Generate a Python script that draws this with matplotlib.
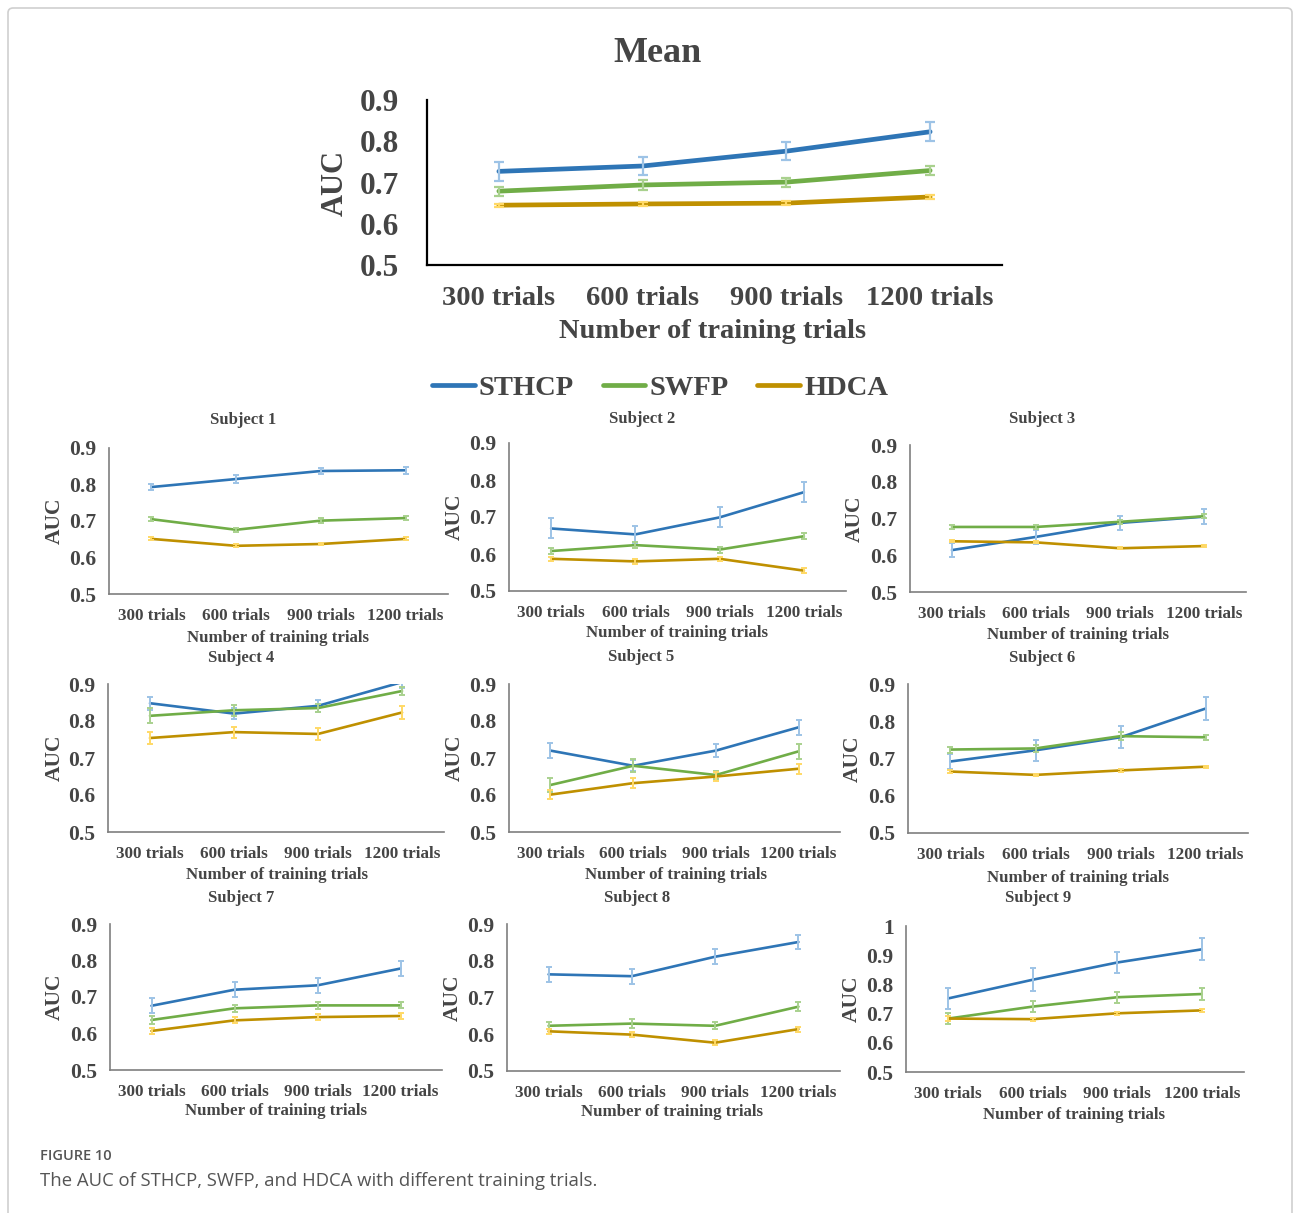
import matplotlib
matplotlib.use('Agg')
import matplotlib.pyplot as plt
from matplotlib.patches import FancyBboxPatch
from matplotlib.lines import Line2D
from matplotlib.ticker import FuncFormatter

W, H = 1293, 1213

categories = ['300 trials', '600 trials', '900 trials', '1200 trials']
panel_titles = ['Mean', 'Subject 1', 'Subject 2', 'Subject 3', 'Subject 4',
                'Subject 5', 'Subject 6', 'Subject 7', 'Subject 8', 'Subject 9']
methods = ['STHCP', 'SWFP', 'HDCA']

# AUC per panel (Mean, Subject 1..9), one list per method
sthcp_auc = [
    [0.727, 0.740, 0.776, 0.823],
    [0.793, 0.815, 0.837, 0.839],
    [0.669, 0.653, 0.699, 0.767],
    [0.614, 0.650, 0.688, 0.705],
    [0.848, 0.820, 0.841, 0.905],
    [0.720, 0.679, 0.720, 0.783],
    [0.692, 0.722, 0.757, 0.834],
    [0.676, 0.720, 0.732, 0.778],
    [0.763, 0.758, 0.811, 0.851],
    [0.752, 0.816, 0.875, 0.920],
]
sthcp_err = [
    [0.023, 0.023, 0.022, 0.023],
    [0.009, 0.010, 0.009, 0.009],
    [0.027, 0.023, 0.027, 0.027],
    [0.020, 0.020, 0.020, 0.020],
    [0.017, 0.015, 0.017, 0.017],
    [0.020, 0.015, 0.018, 0.020],
    [0.020, 0.028, 0.030, 0.031],
    [0.020, 0.020, 0.020, 0.020],
    [0.020, 0.020, 0.020, 0.020],
    [0.037, 0.040, 0.037, 0.038],
]
swfp_auc = [
    [0.679, 0.694, 0.701, 0.729],
    [0.705, 0.676, 0.701, 0.708],
    [0.608, 0.624, 0.612, 0.648],
    [0.677, 0.677, 0.691, 0.706],
    [0.814, 0.829, 0.835, 0.881],
    [0.627, 0.679, 0.654, 0.718],
    [0.724, 0.727, 0.760, 0.757],
    [0.637, 0.669, 0.677, 0.677],
    [0.623, 0.629, 0.623, 0.675],
    [0.683, 0.724, 0.756, 0.767],
]
swfp_err = [
    [0.011, 0.011, 0.011, 0.011],
    [0.006, 0.006, 0.006, 0.006],
    [0.008, 0.008, 0.008, 0.008],
    [0.005, 0.005, 0.005, 0.005],
    [0.020, 0.015, 0.012, 0.012],
    [0.018, 0.017, 0.010, 0.020],
    [0.008, 0.010, 0.010, 0.007],
    [0.010, 0.010, 0.010, 0.008],
    [0.010, 0.012, 0.010, 0.012],
    [0.020, 0.020, 0.018, 0.020],
]
hdca_auc = [
    [0.645, 0.648, 0.650, 0.665],
    [0.651, 0.632, 0.637, 0.651],
    [0.587, 0.580, 0.587, 0.555],
    [0.638, 0.635, 0.619, 0.625],
    [0.754, 0.770, 0.765, 0.823],
    [0.601, 0.632, 0.650, 0.671],
    [0.665, 0.656, 0.668, 0.678],
    [0.607, 0.636, 0.645, 0.648],
    [0.608, 0.599, 0.577, 0.614],
    [0.683, 0.681, 0.701, 0.711],
]
hdca_err = [
    [0.004, 0.004, 0.004, 0.004],
    [0.004, 0.004, 0.004, 0.004],
    [0.006, 0.006, 0.006, 0.006],
    [0.003, 0.003, 0.003, 0.003],
    [0.015, 0.015, 0.015, 0.017],
    [0.013, 0.013, 0.012, 0.013],
    [0.003, 0.003, 0.003, 0.003],
    [0.008, 0.008, 0.008, 0.008],
    [0.007, 0.007, 0.007, 0.007],
    [0.010, 0.005, 0.005, 0.005],
]
y_top = [0.9, 0.9, 0.9, 0.9, 0.9, 0.9, 0.9, 0.9, 0.9, 1.0]

line_colors = ['#2E75B6', '#70AD47', '#BF9000']
err_colors = ['#9DC3E6', '#A9D18E', '#FFD966']
TXT = '#454545'
SERIF = 'Liberation Serif'

plt.rcParams['font.family'] = SERIF
plt.rcParams['font.weight'] = 'bold'

fig = plt.figure(figsize=(W / 100, H / 100), dpi=100)

# light frame round the figure
fig.patches.append(FancyBboxPatch((8 / W, -0.02), 1284 / W, 1 - 8 / H + 0.02,
                                  boxstyle='round,pad=0,rounding_size=0.004',
                                  transform=fig.transFigure, fill=False,
                                  edgecolor='#cfcfcf', linewidth=1.2))


def ftext(x, y, s, **kw):
    fig.text(x / W, 1 - y / H, s, ha=kw.pop('ha', 'center'), va=kw.pop('va', 'center'),
             color=kw.pop('color', TXT), **kw)


# pixel boxes: left, top(=upper limit), right, bottom(=0.5)
boxes = [
    (427, 100, 1002, 265),
    (109, 448, 448, 594), (509, 443, 846, 591), (910, 445, 1246, 592),
    (108, 684, 444, 832), (509, 684, 840, 832), (908, 684, 1248, 833),
    (110, 924, 442, 1070), (507, 924, 840, 1071), (906, 926, 1244, 1072),
]
# title, y-label and x-label anchors (pixels)
title_pos = [(657, 53), (243, 420), (642, 419), (1042, 419), (241, 658), (641, 657),
             (1042, 658), (241, 898), (637, 898), (1038, 898)]
ylab_x = [335, 55, 455, 855, 55, 455, 853, 55, 453, 852]
xlab_pos = [(713, 332), (278, 638), (677, 633), (1078, 635), (277, 875), (676, 875),
            (1078, 878), (276, 1111), (672, 1112), (1074, 1115)]

aucs = [sthcp_auc, swfp_auc, hdca_auc]
errs = [sthcp_err, swfp_err, hdca_err]
x = list(range(len(categories)))

for i, (l, t, r, b) in enumerate(boxes):
    big = i == 0
    ax = fig.add_axes([l / W, 1 - b / H, (r - l) / W, (b - t) / H])
    for m in range(3):
        ax.plot(x, aucs[m][i], color=line_colors[m], lw=3.4 if big else 1.9,
                solid_capstyle='round', zorder=2)
        ax.errorbar(x, aucs[m][i], yerr=errs[m][i], fmt='none', ecolor=err_colors[m],
                    elinewidth=1.6 if big else 1.4, capsize=3.5 if big else 2.5,
                    capthick=1.6 if big else 1.4, zorder=3)
    ax.set_xlim(-0.5, 3.5)
    ax.set_ylim(0.5, y_top[i])
    ax.set_yticks([round(0.5 + 0.1 * k, 1) for k in range(int(round((y_top[i] - 0.5) * 10)) + 1)])
    ax.yaxis.set_major_formatter(FuncFormatter(lambda v, p: f'{v:g}'))
    ax.set_xticks(x)
    ax.set_xticklabels(categories)
    for s in ['top', 'right']:
        ax.spines[s].set_visible(False)
    for s in ['left', 'bottom']:
        ax.spines[s].set_color('#000000' if big else '#7f7f7f')
        ax.spines[s].set_linewidth(1.6 if big else 1.2)
    ax.tick_params(length=0, colors=TXT)
    ax.tick_params(axis='x', labelsize=20.5 if big else 12.3, pad=15 if big else 10)
    ax.tick_params(axis='y', labelsize=22.5 if big else 15.5, pad=20 if big else 9)
    ax.patch.set_alpha(0)

    ftext(*title_pos[i], panel_titles[i], fontsize=26 if big else 12, weight='bold')
    ftext(ylab_x[i], (t + b) / 2, 'AUC', rotation=90, fontsize=22 if big else 15.5,
          weight='bold')
    ftext(*xlab_pos[i], 'Number of training trials', fontsize=20.5 if big else 12.2,
          weight='bold')

handles = [Line2D([], [], color=c, lw=3.4, solid_capstyle='round') for c in line_colors]
fig.legend(handles, methods, loc='center', bbox_to_anchor=(660 / W, 1 - 388 / H),
           ncol=3, frameon=False, handlelength=1.5, handletextpad=0.15,
           columnspacing=1.0, prop={'family': SERIF, 'weight': 'bold', 'size': 20.5},
           labelcolor=TXT)

ftext(40, 1156, 'FIGURE 10', ha='left', fontsize=10.5, family='Open Sans',
      weight='semibold', color='#555555')
ftext(40, 1181, 'The AUC of STHCP, SWFP, and HDCA with different training trials.',
      ha='left', fontsize=13.3, family='Open Sans', weight='normal', color='#555555')

fig.savefig('out.png', dpi=100)
